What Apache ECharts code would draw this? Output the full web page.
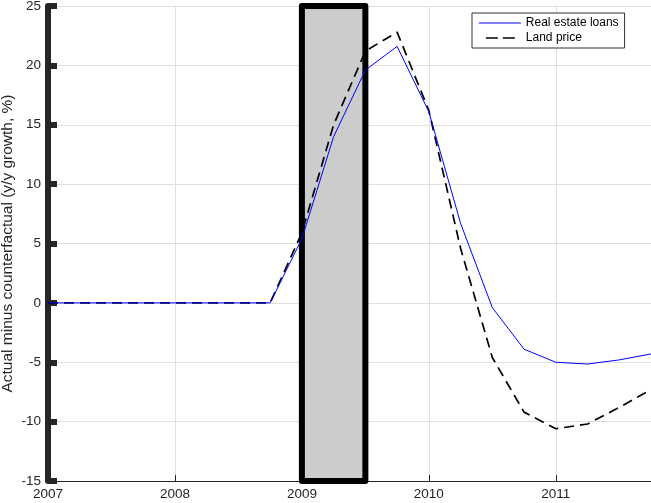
<!DOCTYPE html>
<html>
<head>
<meta charset="utf-8">
<script src="https://cdn.jsdelivr.net/npm/echarts@6/dist/echarts.min.js"></script>
<style>
html,body{margin:0;padding:0;background:#fff;}
#chart{width:651px;height:503px;}
</style>
</head>
<body>
<div id="chart"></div>
<script>
// Quarterly dates (decimal years)
const quarters = [2007.00, 2007.25, 2007.50, 2007.75, 2008.00, 2008.25, 2008.50, 2008.75,
                  2009.00, 2009.25, 2009.50, 2009.75, 2010.00, 2010.25, 2010.50, 2010.75,
                  2011.00, 2011.25, 2011.50, 2011.75];
const realEstateLoans = [0, 0, 0, 0, 0, 0, 0, 0,
                         5.4, 14.0, 19.6, 21.6, 16.1, 6.7, -0.4, -3.9,
                         -5.0, -5.15, -4.8, -4.3];
const landPrice = [0, 0, 0, 0, 0, 0, 0, 0,
                   5.9, 15.0, 21.2, 22.8, 16.2, 4.6, -4.6, -9.2,
                   -10.6, -10.2, -8.8, -7.3];
const seriesNames = ['Real estate loans', 'Land price'];
const shadedPeriod = [2009.0, 2009.5];
const yTicks = [-15, -10, -5, 0, 5, 10, 15, 20, 25];
const xTicks = [2007, 2008, 2009, 2010, 2011];
const yLabel = 'Actual minus counterfactual (y/y growth, %)';

const FONT = "'Liberation Sans', Arial, Helvetica, sans-serif";
const AX = '#262626';

const chart = echarts.init(document.getElementById('chart'), null, {renderer: 'canvas'});
const pair = (xs, ys) => xs.map((x, i) => [x, ys[i]]);

chart.setOption({
  animation: false,
  backgroundColor: '#ffffff',
  textStyle: {fontFamily: FONT},
  grid: {left: 48, right: 0, top: 6, bottom: 22, containLabel: false, outerBoundsMode: 'none'},
  legend: {
    data: [
      {name: seriesNames[0], lineStyle: {width: 1.2}},
      {name: seriesNames[1], lineStyle: {width: 1.7, type: [12, 5, 12, 13], dashOffset: 35}}
    ],
    orient: 'vertical',
    left: 472, top: 13,
    padding: [4, 6, 4, 6],
    itemWidth: 42, itemHeight: 14, itemGap: 3,
    backgroundColor: '#ffffff',
    borderColor: '#333333', borderWidth: 1,
    itemStyle: {opacity: 0},
    textStyle: {fontFamily: FONT, fontSize: 12, color: '#000'}
  },
  xAxis: {
    type: 'value',
    min: xTicks[0], max: quarters[quarters.length - 1], interval: 1,
    axisLine: {onZero: false, lineStyle: {color: AX, width: 1}},
    axisTick: {inside: true, length: 6, lineStyle: {color: AX, width: 1}},
    axisLabel: {
      color: AX, fontSize: 13.5, fontFamily: FONT, margin: 6,
      formatter: v => xTicks.indexOf(Math.round(v * 100) / 100) >= 0 ? String(v) : ''
    },
    splitLine: {show: true, lineStyle: {color: '#e0e0e0', width: 1}}
  },
  yAxis: {
    type: 'value',
    min: yTicks[0], max: yTicks[yTicks.length - 1], interval: 5,
    name: yLabel,
    nameLocation: 'middle', nameGap: 32, nameMoveOverlap: false,
    nameTextStyle: {color: AX, fontSize: 15.5, fontFamily: FONT},
    axisLine: {show: true, lineStyle: {color: AX, width: 6}},
    axisTick: {show: true, inside: true, length: 9, lineStyle: {color: AX, width: 6}},
    axisLabel: {color: AX, fontSize: 13.5, fontFamily: FONT, margin: 7},
    splitLine: {show: true, lineStyle: {color: '#e0e0e0', width: 1}}
  },
  series: [
    {
      name: 'shade', type: 'line', data: [[shadedPeriod[0], 0]], symbol: 'none',
      lineStyle: {opacity: 0}, silent: true, z: 1,
      markArea: {
        silent: true,
        itemStyle: {color: '#cccccc', opacity: 1, borderColor: '#000000', borderWidth: 6, borderJoin: 'round'},
        data: [[{xAxis: shadedPeriod[0]}, {xAxis: shadedPeriod[1]}]]
      }
    },
    {
      name: seriesNames[0], type: 'line', data: pair(quarters, realEstateLoans),
      symbol: 'none', z: 4,
      lineStyle: {color: '#0000ff', width: 1},
      itemStyle: {color: '#0000ff'}
    },
    {
      name: seriesNames[1], type: 'line', data: pair(quarters, landPrice),
      symbol: 'none', z: 3,
      lineStyle: {color: '#000000', width: 1.7, type: [10, 6]},
      itemStyle: {color: '#000000'}
    }
  ]
});
</script>
</body>
</html>
